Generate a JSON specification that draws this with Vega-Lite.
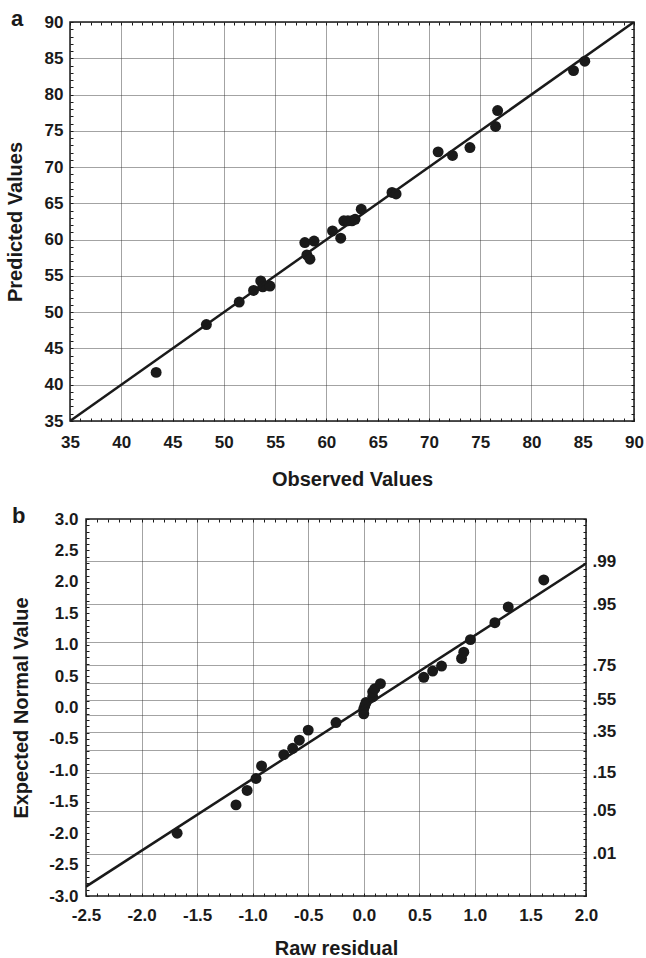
{
  "$schema": "https://vega.github.io/schema/vega-lite/v6.json",
  "background": "white",
  "padding": {"left": 2, "top": 6, "right": 0, "bottom": 0},
  "config": {
    "view": {"stroke": "#1a1a1a", "strokeWidth": 1.5},
    "axis": {
      "domain": false,
      "labelFont": "Liberation Sans",
      "labelFontWeight": "bold",
      "labelFontSize": 17,
      "labelColor": "#1a1a1a",
      "titleFont": "Liberation Sans",
      "titleFontWeight": "bold",
      "titleFontSize": 20,
      "titleColor": "#1a1a1a",
      "labelFlush": false,
      "labelOverlap": false,
      "labelBound": false,
      "gridColor": "#333333",
      "gridDash": [1, 1],
      "gridWidth": 1,
      "gridOpacity": 0.9,
      "tickColor": "#1a1a1a"
    }
  },
  "datasets": {
    "a_points": [
      {"observed": 43.4, "predicted": 41.7},
      {"observed": 48.3, "predicted": 48.3},
      {"observed": 51.5, "predicted": 51.4},
      {"observed": 52.9, "predicted": 53.0},
      {"observed": 53.6, "predicted": 54.3},
      {"observed": 53.8, "predicted": 53.5},
      {"observed": 54.5, "predicted": 53.6},
      {"observed": 57.9, "predicted": 59.6},
      {"observed": 58.8, "predicted": 59.8},
      {"observed": 58.1, "predicted": 57.9},
      {"observed": 58.4, "predicted": 57.3},
      {"observed": 60.6, "predicted": 61.2},
      {"observed": 61.4, "predicted": 60.2},
      {"observed": 61.7, "predicted": 62.6},
      {"observed": 62.1, "predicted": 62.6},
      {"observed": 62.5, "predicted": 62.6},
      {"observed": 62.8, "predicted": 62.8},
      {"observed": 63.4, "predicted": 64.2},
      {"observed": 66.4, "predicted": 66.5},
      {"observed": 66.8, "predicted": 66.3},
      {"observed": 70.9, "predicted": 72.1},
      {"observed": 72.3, "predicted": 71.6},
      {"observed": 74.0, "predicted": 72.7},
      {"observed": 76.7, "predicted": 77.8},
      {"observed": 76.5, "predicted": 75.6},
      {"observed": 84.1, "predicted": 83.3},
      {"observed": 85.2, "predicted": 84.6}
    ],
    "a_line": [
      {"observed": 35, "predicted": 35},
      {"observed": 90, "predicted": 90}
    ],
    "b_points": [
      {"residual": -1.68, "expected": -2.0},
      {"residual": -1.15, "expected": -1.55},
      {"residual": -1.05, "expected": -1.32},
      {"residual": -0.97, "expected": -1.13},
      {"residual": -0.92, "expected": -0.93},
      {"residual": -0.72, "expected": -0.75},
      {"residual": -0.64, "expected": -0.65},
      {"residual": -0.58, "expected": -0.52},
      {"residual": -0.5, "expected": -0.36},
      {"residual": -0.25, "expected": -0.24},
      {"residual": 0.0, "expected": -0.1},
      {"residual": 0.0, "expected": -0.02},
      {"residual": 0.01, "expected": 0.03},
      {"residual": 0.02, "expected": 0.08},
      {"residual": 0.08, "expected": 0.17},
      {"residual": 0.08, "expected": 0.25},
      {"residual": 0.1, "expected": 0.3},
      {"residual": 0.15, "expected": 0.38},
      {"residual": 0.54, "expected": 0.48},
      {"residual": 0.62, "expected": 0.58},
      {"residual": 0.7, "expected": 0.66},
      {"residual": 0.88, "expected": 0.78},
      {"residual": 0.9, "expected": 0.88},
      {"residual": 0.96, "expected": 1.08},
      {"residual": 1.18, "expected": 1.35},
      {"residual": 1.3, "expected": 1.6},
      {"residual": 1.62, "expected": 2.03}
    ],
    "b_line": [
      {"residual": -2.5, "expected": -2.85},
      {"residual": 2.0, "expected": 2.29}
    ],
    "empty": [{"k": 0}]
  },
  "spacing": 12,
  "vconcat": [
    {
      "spacing": 0,
      "hconcat": [
        {
          "width": 1,
          "height": 10,
          "view": {"stroke": null},
          "data": {"name": "empty"},
          "mark": {"type": "rule", "opacity": 0},
          "encoding": {}
        },
        {
          "width": 564,
          "height": 399,
          "title": {"text": "a", "anchor": "start", "frame": "group", "dx": -59, "offset": -34.5, "baseline": "alphabetic", "fontSize": 22, "fontWeight": "bold", "font": "Liberation Sans", "color": "#1a1a1a"},
          "resolve": {"axis": {"x": "independent", "y": "independent"}},
          "layer": [
            {
              "data": {"name": "a_points"},
              "mark": {"type": "circle", "size": 120, "color": "#1a1a1a", "opacity": 1},
              "encoding": {
                "x": {"field": "observed", "type": "quantitative",
                  "scale": {"domain": [35, 90], "nice": false, "zero": false},
                  "axis": {"orient": "bottom", "values": [35, 40, 45, 50, 55, 60, 65, 70, 75, 80, 85, 90], "format": "d", "title": "Observed Values", "grid": true, "ticks": false, "tickSize": 0, "labelPadding": 13.5, "titlePadding": 19}},
                "y": {"field": "predicted", "type": "quantitative",
                  "scale": {"domain": [35, 90], "nice": false, "zero": false},
                  "axis": {"orient": "left", "values": [35, 40, 45, 50, 55, 60, 65, 70, 75, 80, 85, 90], "format": "d", "title": "Predicted Values", "grid": true, "ticks": false, "tickSize": 0, "labelPadding": 7, "titlePadding": 19}}
              }
            },
            {
              "data": {"name": "a_line"},
              "mark": {"type": "line", "color": "#1a1a1a", "strokeWidth": 2.5, "clip": true},
              "encoding": {
                "x": {"field": "observed", "type": "quantitative",
                  "scale": {"domain": [35, 90], "nice": false, "zero": false},
                  "axis": {"orient": "top", "values": [35,36,37,38,39,40,41,42,43,44,45,46,47,48,49,50,51,52,53,54,55,56,57,58,59,60,61,62,63,64,65,66,67,68,69,70,71,72,73,74,75,76,77,78,79,80,81,82,83,84,85,86,87,88,89,90], "labels": false, "grid": false, "ticks": true, "tickSize": -3, "tickWidth": 1, "title": null}},
                "y": {"field": "predicted", "type": "quantitative",
                  "scale": {"domain": [35, 90], "nice": false, "zero": false},
                  "axis": {"orient": "right", "values": [35,36,37,38,39,40,41,42,43,44,45,46,47,48,49,50,51,52,53,54,55,56,57,58,59,60,61,62,63,64,65,66,67,68,69,70,71,72,73,74,75,76,77,78,79,80,81,82,83,84,85,86,87,88,89,90], "labels": false, "grid": false, "ticks": true, "tickSize": -3, "tickWidth": 1, "title": null}}
              }
            },
            {
              "data": {"name": "a_points"},
              "mark": {"type": "point", "opacity": 0},
              "encoding": {
                "x": {"field": "observed", "type": "quantitative",
                  "scale": {"domain": [35, 90], "nice": false, "zero": false},
                  "axis": {"orient": "bottom", "values": [35,36,37,38,39,40,41,42,43,44,45,46,47,48,49,50,51,52,53,54,55,56,57,58,59,60,61,62,63,64,65,66,67,68,69,70,71,72,73,74,75,76,77,78,79,80,81,82,83,84,85,86,87,88,89,90], "labels": false, "grid": false, "ticks": true, "tickSize": -3, "tickWidth": 1, "title": null}},
                "y": {"field": "predicted", "type": "quantitative",
                  "scale": {"domain": [35, 90], "nice": false, "zero": false},
                  "axis": {"orient": "left", "values": [35,36,37,38,39,40,41,42,43,44,45,46,47,48,49,50,51,52,53,54,55,56,57,58,59,60,61,62,63,64,65,66,67,68,69,70,71,72,73,74,75,76,77,78,79,80,81,82,83,84,85,86,87,88,89,90], "labels": false, "grid": false, "ticks": true, "tickSize": -3, "tickWidth": 1, "title": null}}
              }
            }
          ]
        }
      ]
    },
    {
      "spacing": 0,
      "hconcat": [
        {
          "width": 7,
          "height": 10,
          "view": {"stroke": null},
          "data": {"name": "empty"},
          "mark": {"type": "rule", "opacity": 0},
          "encoding": {}
        },
        {
          "width": 500,
          "height": 377,
          "title": {"text": "b", "anchor": "start", "frame": "group", "dx": -74, "offset": -34.5, "baseline": "alphabetic", "fontSize": 22, "fontWeight": "bold", "font": "Liberation Sans", "color": "#1a1a1a"},
          "resolve": {"axis": {"x": "independent", "y": "independent"}},
          "layer": [
            {
              "data": {"name": "b_points"},
              "mark": {"type": "circle", "size": 120, "color": "#1a1a1a", "opacity": 1},
              "encoding": {
                "x": {"field": "residual", "type": "quantitative",
                  "scale": {"domain": [-2.5, 2.0], "nice": false, "zero": false},
                  "axis": {"orient": "bottom", "values": [-2.5, -2.0, -1.5, -1.0, -0.5, 0, 0.5, 1.0, 1.5, 2.0], "labelExpr": "(datum.value < 0 ? '-' : '') + format(abs(datum.value), '.1f')", "title": "Raw residual", "grid": true, "ticks": false, "tickSize": 0, "labelPadding": 11, "titlePadding": 15}},
                "y": {"field": "expected", "type": "quantitative",
                  "scale": {"domain": [-3, 3], "nice": false, "zero": false},
                  "axis": {"orient": "left", "values": [-3, -2.5, -2, -1.5, -1, -0.5, 0, 0.5, 1, 1.5, 2, 2.5, 3], "labelExpr": "(datum.value < 0 ? '-' : '') + format(abs(datum.value), '.1f')", "title": "Expected Normal Value", "grid": false, "ticks": false, "tickSize": 0, "labelPadding": 8, "titlePadding": 17}}
              }
            },
            {
              "data": {"name": "b_line"},
              "mark": {"type": "line", "color": "#1a1a1a", "strokeWidth": 2.5, "clip": true},
              "encoding": {
                "x": {"field": "residual", "type": "quantitative",
                  "scale": {"domain": [-2.5, 2.0], "nice": false, "zero": false},
                  "axis": {"orient": "top", "values": [-2.5,-2.4,-2.3,-2.2,-2.1,-2,-1.9,-1.8,-1.7,-1.6,-1.5,-1.4,-1.3,-1.2,-1.1,-1,-0.9,-0.8,-0.7,-0.6,-0.5,-0.4,-0.3,-0.2,-0.1,0,0.1,0.2,0.3,0.4,0.5,0.6,0.7,0.8,0.9,1,1.1,1.2,1.3,1.4,1.5,1.6,1.7,1.8,1.9,2], "labels": false, "grid": false, "ticks": true, "tickSize": -3, "tickWidth": 1, "title": null}},
                "y": {"field": "expected", "type": "quantitative",
                  "scale": {"domain": [-3, 3], "nice": false, "zero": false},
                  "axis": {"orient": "right", "values": [2.326, 1.645, 1.036, 0.674, 0.385, 0.126, -0.126, -0.385, -0.674, -1.036, -1.645, -2.326], "labelExpr": "datum.value > 2 ? '.99' : datum.value > 1.5 ? '.95' : abs(datum.value - 0.674) < 0.01 ? '.75' : abs(datum.value - 0.126) < 0.01 ? '.55' : abs(datum.value + 0.385) < 0.01 ? '.35' : abs(datum.value + 1.036) < 0.01 ? '.15' : abs(datum.value + 1.645) < 0.01 ? '.05' : datum.value < -2 ? '.01' : ''", "grid": true, "ticks": false, "tickSize": 0, "labelPadding": 6, "title": null}}
              }
            },
            {
              "data": {"name": "b_points"},
              "mark": {"type": "point", "opacity": 0},
              "encoding": {
                "x": {"field": "residual", "type": "quantitative",
                  "scale": {"domain": [-2.5, 2.0], "nice": false, "zero": false},
                  "axis": {"orient": "bottom", "values": [-2.5,-2.4,-2.3,-2.2,-2.1,-2,-1.9,-1.8,-1.7,-1.6,-1.5,-1.4,-1.3,-1.2,-1.1,-1,-0.9,-0.8,-0.7,-0.6,-0.5,-0.4,-0.3,-0.2,-0.1,0,0.1,0.2,0.3,0.4,0.5,0.6,0.7,0.8,0.9,1,1.1,1.2,1.3,1.4,1.5,1.6,1.7,1.8,1.9,2], "labels": false, "grid": false, "ticks": true, "tickSize": -3, "tickWidth": 1, "title": null}},
                "y": {"field": "expected", "type": "quantitative",
                  "scale": {"domain": [-3, 3], "nice": false, "zero": false},
                  "axis": {"orient": "left", "values": [-3,-2.9,-2.8,-2.7,-2.6,-2.5,-2.4,-2.3,-2.2,-2.1,-2,-1.9,-1.8,-1.7,-1.6,-1.5,-1.4,-1.3,-1.2,-1.1,-1,-0.9,-0.8,-0.7,-0.6,-0.5,-0.4,-0.3,-0.2,-0.1,0,0.1,0.2,0.3,0.4,0.5,0.6,0.7,0.8,0.9,1,1.1,1.2,1.3,1.4,1.5,1.6,1.7,1.8,1.9,2,2.1,2.2,2.3,2.4,2.5,2.6,2.7,2.8,2.9,3], "labels": false, "grid": false, "ticks": true, "tickSize": -3, "tickWidth": 1, "title": null}}
              }
            },
            {
              "data": {"name": "b_points"},
              "mark": {"type": "point", "opacity": 0},
              "encoding": {
                "x": {"field": "residual", "type": "quantitative",
                  "scale": {"domain": [-2.5, 2.0], "nice": false, "zero": false},
                  "axis": null},
                "y": {"field": "expected", "type": "quantitative",
                  "scale": {"domain": [-3, 3], "nice": false, "zero": false},
                  "axis": {"orient": "right", "values": [-3,-2.9,-2.8,-2.7,-2.6,-2.5,-2.4,-2.3,-2.2,-2.1,-2,-1.9,-1.8,-1.7,-1.6,-1.5,-1.4,-1.3,-1.2,-1.1,-1,-0.9,-0.8,-0.7,-0.6,-0.5,-0.4,-0.3,-0.2,-0.1,0,0.1,0.2,0.3,0.4,0.5,0.6,0.7,0.8,0.9,1,1.1,1.2,1.3,1.4,1.5,1.6,1.7,1.8,1.9,2,2.1,2.2,2.3,2.4,2.5,2.6,2.7,2.8,2.9,3], "labels": false, "grid": false, "ticks": true, "tickSize": -3, "tickWidth": 1, "title": null}}
              }
            }
          ]
        }
      ]
    }
  ]
}
